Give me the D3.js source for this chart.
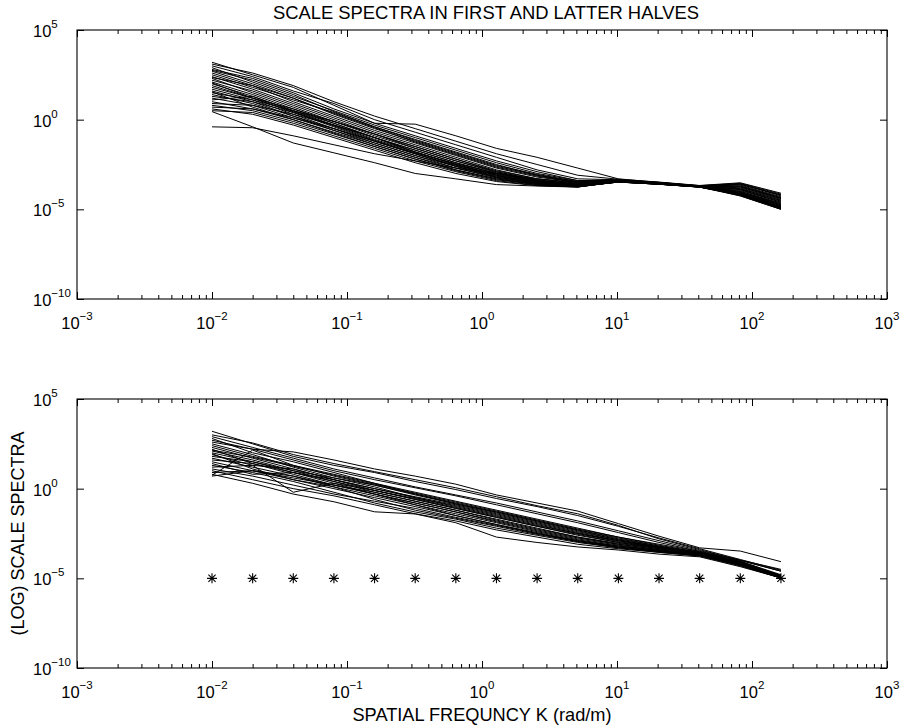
<!DOCTYPE html>
<html><head><meta charset="utf-8">
<script src="https://cdn.jsdelivr.net/npm/d3@7"></script>
<style>body{margin:0;background:#fff}svg{display:block}</style>
</head><body><svg id="c" width="902" height="727"></svg>
<script>
// ---- DATA ----
const freqs = [0.01,0.02,0.04,0.08,0.16,0.32,0.64,1.28,2.56,5.12,10.24,20.48,40.96,81.92,163.84];
const xTickExps = [-3,-2,-1,0,1,2,3];
const yTickExps = [5,0,-5,-10];
const markerLevel = 1e-5;
const titleText = "SCALE SPECTRA IN FIRST AND LATTER HALVES";
const xLabelText = "SPATIAL FREQUNCY K (rad/m)";
const yLabelText = "(LOG) SCALE SPECTRA";

// log10 of the scale spectra, first half (top panel)
const firstHalfLog10 = [
 [3.2, 2.5, 1.8, 0.8, -0.2, -0.25, -0.9, -1.6, -2.1, -2.7, -3.3, -3.5, -3.7, -3.6, -4.2],
 [-0.4, -0.45, -0.9, -1.4, -1.9, -2.3, -2.7, -3.0, -3.3, -3.5, -3.4, -3.55, -3.7, -3.9, -4.6],
 [0.45, -0.4, -1.3, -1.85, -2.4, -3.0, -3.3, -3.62, -3.7, -3.76, -3.45, -3.55, -3.72, -4.25, -5.0],
 [3.0, 2.4, 1.6, 0.9, 0.0, -0.7, -1.4, -2.1, -2.8, -3.3, -3.35, -3.5, -3.68, -3.55, -4.15],
 [2.9, 2.1, 1.3, 0.5, -0.3, -1.0, -1.7, -2.4, -3.0, -3.4, -3.38, -3.52, -3.7, -3.6, -4.2],
 [2.8, 2.3, 1.5, 0.6, -0.2, -0.9, -1.6, -2.3, -2.9, -3.4, -3.36, -3.5, -3.69, -3.58, -4.25],
 [2.7, 2.0, 1.2, 0.3, -0.5, -1.2, -1.9, -2.6, -3.1, -3.5, -3.4, -3.53, -3.71, -3.65, -4.3],
 [2.6, 1.9, 1.0, 0.2, -0.6, -1.3, -2.0, -2.7, -3.2, -3.5, -3.42, -3.55, -3.72, -3.7, -4.35],
 [2.5, 1.8, 1.1, 0.4, -0.4, -1.1, -1.8, -2.5, -3.1, -3.45, -3.39, -3.52, -3.7, -3.75, -4.4],
 [2.4, 1.7, 0.9, 0.1, -0.7, -1.4, -2.1, -2.8, -3.3, -3.55, -3.41, -3.54, -3.71, -3.8, -4.45],
 [2.3, 1.5, 0.7, -0.1, -0.9, -1.6, -2.3, -2.9, -3.35, -3.6, -3.43, -3.56, -3.73, -3.85, -4.5],
 [2.2, 1.6, 0.8, 0.0, -0.8, -1.5, -2.2, -2.85, -3.3, -3.55, -3.4, -3.55, -3.72, -3.9, -4.55],
 [2.1, 1.4, 0.6, -0.2, -1.0, -1.7, -2.4, -3.0, -3.4, -3.6, -3.44, -3.57, -3.74, -3.95, -4.6],
 [2.0, 1.3, 0.5, -0.3, -1.1, -1.8, -2.5, -3.05, -3.45, -3.65, -3.45, -3.58, -3.74, -4.0, -4.65],
 [1.9, 1.2, 0.4, -0.4, -1.2, -1.9, -2.55, -3.1, -3.5, -3.7, -3.46, -3.58, -3.75, -4.05, -4.7],
 [1.8, 1.2, 0.6, -0.1, -0.8, -1.6, -2.3, -2.95, -3.4, -3.6, -3.43, -3.56, -3.73, -4.1, -4.75],
 [1.7, 1.1, 0.3, -0.5, -1.3, -2.0, -2.6, -3.15, -3.5, -3.7, -3.47, -3.59, -3.75, -4.1, -4.8],
 [1.6, 1.0, 0.2, -0.6, -1.4, -2.1, -2.7, -3.2, -3.55, -3.72, -3.48, -3.6, -3.76, -4.15, -4.85],
 [1.5, 1.1, 0.5, -0.2, -1.0, -1.8, -2.5, -3.1, -3.5, -3.68, -3.46, -3.58, -3.74, -4.15, -4.9],
 [1.4, 0.9, 0.2, -0.5, -1.2, -1.9, -2.6, -3.2, -3.55, -3.7, -3.47, -3.6, -3.75, -4.2, -4.95],
 [1.3, 1.0, 0.4, -0.3, -1.0, -1.7, -2.4, -3.0, -3.45, -3.65, -3.45, -3.57, -3.74, -4.2, -4.9],
 [1.2, 0.8, 0.1, -0.6, -1.3, -2.0, -2.7, -3.25, -3.6, -3.72, -3.48, -3.6, -3.76, -4.25, -5.0],
 [1.1, 1.3, 0.5, -0.1, -0.8, -1.5, -2.2, -2.9, -3.4, -3.6, -3.44, -3.56, -3.73, -4.0, -4.7],
 [1.0, 0.6, 0.0, -0.7, -1.4, -2.1, -2.8, -3.3, -3.6, -3.74, -3.48, -3.6, -3.76, -4.2, -4.95],
 [0.9, 0.8, 0.3, -0.3, -1.0, -1.8, -2.5, -3.1, -3.5, -3.68, -3.46, -3.58, -3.75, -4.1, -4.8],
 [0.8, 0.5, -0.1, -0.8, -1.5, -2.2, -2.8, -3.3, -3.62, -3.74, -3.47, -3.59, -3.75, -4.15, -4.85],
 [0.7, 0.6, 0.1, -0.5, -1.2, -1.9, -2.6, -3.2, -3.55, -3.7, -3.45, -3.58, -3.74, -4.05, -4.75],
 [0.6, 0.3, -0.3, -1.0, -1.7, -2.4, -3.0, -3.45, -3.68, -3.75, -3.46, -3.58, -3.74, -4.2, -4.95],
 [2.05, 1.2, 0.45, -0.35, -1.15, -1.85, -2.45, -3.0, -3.4, -3.62, -3.42, -3.55, -3.72, -3.85, -4.5],
 [2.75, 2.2, 1.4, 0.45, -0.4, -1.15, -1.85, -2.55, -3.05, -3.45, -3.38, -3.52, -3.7, -3.7, -4.35],
 [1.55, 0.7, 0.0, -0.75, -1.5, -2.2, -2.85, -3.35, -3.62, -3.73, -3.47, -3.6, -3.76, -4.2, -4.9],
 [2.35, 1.9, 1.2, 0.35, -0.45, -1.25, -1.95, -2.65, -3.15, -3.5, -3.4, -3.54, -3.71, -3.75, -4.4],
 [3.1, 2.6, 1.9, 1.0, 0.2, -0.5, -1.2, -1.9, -2.5, -3.1, -3.32, -3.48, -3.67, -3.52, -4.1],
 [0.5, 0.4, -0.2, -0.9, -1.6, -2.3, -2.9, -3.4, -3.66, -3.75, -3.46, -3.59, -3.75, -4.15, -4.9]
];

// log10 of the scale spectra, latter half (bottom panel)
const latterHalfLog10 = [
 [2.6, 2.2, 2.05, 1.6, 1.1, 0.7, 0.25, -0.35, -0.8, -1.25, -1.95, -2.65, -3.3, -3.48, -4.07],
 [3.2, 2.5, 1.8, 1.3, 0.9, 0.4, -0.05, -0.55, -1.0, -1.5, -2.1, -2.75, -3.35, -3.95, -4.55],
 [3.0, 2.55, 1.9, 1.4, 0.95, 0.5, 0.05, -0.45, -0.95, -1.4, -2.05, -2.8, -3.4, -4.0, -4.6],
 [0.75, 2.15, 1.3, 0.8, 0.3, -0.2, -0.7, -1.2, -1.7, -2.2, -2.7, -3.1, -3.5, -4.05, -4.8],
 [2.8, 2.0, 1.5, 0.9, 0.3, -0.3, -0.8, -1.3, -1.8, -2.3, -2.8, -3.2, -3.6, -4.1, -4.9],
 [2.5, 1.9, 1.2, 0.6, 0.1, -0.5, -1.0, -1.5, -2.0, -2.5, -2.9, -3.25, -3.6, -4.15, -4.95],
 [2.3, 1.7, 1.1, 0.5, -0.1, -0.6, -1.1, -1.6, -2.1, -2.6, -3.0, -3.35, -3.65, -4.2, -4.95],
 [2.2, 1.4, 0.8, 0.2, -0.3, -0.8, -1.3, -1.8, -2.3, -2.75, -3.1, -3.4, -3.7, -4.2, -4.98],
 [2.1, 1.6, 1.0, 0.4, -0.2, -0.7, -1.2, -1.7, -2.2, -2.7, -3.05, -3.35, -3.65, -4.15, -4.9],
 [2.0, 1.5, 0.9, 0.5, 0.0, -0.5, -0.95, -1.45, -1.95, -2.45, -2.9, -3.3, -3.6, -4.1, -4.85],
 [1.9, 1.3, -0.2, 0.3, -0.1, -0.6, -1.1, -1.6, -2.1, -2.55, -3.0, -3.3, -3.6, -4.15, -4.9],
 [1.8, 1.5, 1.0, 0.6, 0.2, -0.3, -0.85, -1.35, -1.85, -2.35, -2.85, -3.25, -3.55, -4.1, -4.85],
 [1.7, 1.2, 0.7, 0.1, -0.4, -0.9, -1.4, -1.9, -2.4, -2.85, -3.2, -3.45, -3.7, -4.2, -4.95],
 [1.6, 1.4, 0.9, 0.3, -0.3, -0.8, -1.3, -1.85, -2.35, -2.8, -3.15, -3.45, -3.7, -4.25, -4.98],
 [1.5, 1.0, 0.6, 0.2, -0.2, -0.7, -1.2, -1.75, -2.25, -2.7, -3.1, -3.4, -3.65, -4.2, -4.95],
 [1.3, 0.9, 0.4, -0.2, -0.8, -1.3, -1.7, -2.2, -2.6, -3.0, -3.3, -3.5, -3.75, -4.25, -4.98],
 [1.2, 1.3, 1.1, 0.5, 0.0, -0.45, -0.9, -1.4, -1.9, -2.4, -2.85, -3.25, -3.55, -4.1, -4.9],
 [1.0, 0.5, 0.0, -0.4, -0.9, -1.4, -1.8, -2.3, -2.7, -3.1, -3.35, -3.55, -3.75, -4.3, -4.98],
 [0.8, 0.3, -0.3, -0.73, -1.29, -1.41, -1.9, -2.7, -3.0, -3.25, -3.42, -3.65, -3.8, -4.35, -4.98],
 [0.9, 1.0, 0.7, 0.2, -0.3, -0.9, -1.5, -2.0, -2.45, -2.9, -3.25, -3.5, -3.7, -4.25, -4.95],
 [2.4, 1.8, 1.3, 0.7, 0.2, -0.35, -0.85, -1.3, -1.8, -2.3, -2.75, -3.2, -3.55, -4.05, -4.85],
 [2.7, 2.2, 1.6, 1.0, 0.5, 0.05, -0.4, -0.9, -1.4, -1.9, -2.45, -3.0, -3.5, -4.0, -4.6],
 [1.4, 0.8, 0.9, 0.4, -0.1, -0.55, -1.05, -1.55, -2.05, -2.5, -2.95, -3.3, -3.6, -4.15, -4.9],
 [2.9, 2.3, 1.7, 1.1, 0.6, 0.1, -0.35, -0.8, -1.3, -1.8, -2.35, -2.9, -3.45, -3.98, -4.5],
 [1.1, 0.7, 0.2, -0.3, -0.7, -1.1, -1.6, -2.05, -2.5, -2.95, -3.3, -3.55, -3.75, -4.3, -4.98],
 [2.15, 1.75, 1.25, 0.75, 0.25, -0.25, -0.75, -1.25, -1.75, -2.25, -2.7, -3.15, -3.55, -4.1, -4.85],
 [1.95, 1.1, 0.5, 0.0, -0.5, -1.0, -1.5, -2.0, -2.5, -2.9, -3.2, -3.45, -3.7, -4.2, -4.95],
 [0.7, 1.0, 0.5, 0.1, -0.6, -1.2, -1.65, -2.1, -2.55, -2.95, -3.25, -3.5, -3.7, -4.25, -4.98]
];

// ---- DRAW ----
const svg = d3.select("#c");
const FONT = "'Liberation Sans', Arial, Helvetica, sans-serif";
const L = 77, R = 887;
const panels = [
  {top: 30, bottom: 299, data: firstHalfLog10, markers: false},
  {top: 399, bottom: 668, data: latterHalfLog10, markers: true}
];
const x = d3.scaleLog().domain([1e-3, 1e3]).range([L, R]);
const majorX = xTickExps.map(e => Math.pow(10, e));
const minorX = [];
for (let e = -3; e < 3; e++) for (let m = 2; m <= 9; m++) minorX.push(m * Math.pow(10, e));
const majorY = yTickExps.map(e => Math.pow(10, e));
const minus = s => String(s).replace("-", "\u2212");

function supLabel(sel, base, exp, anchor) {
  const t = sel.append("text").attr("text-anchor", anchor).attr("font-family", FONT).attr("fill", "#000");
  t.append("tspan").attr("font-size", 16.5).text(base);
  t.append("tspan").attr("font-size", 11.5).attr("dy", -9).text(minus(exp));
  return t;
}

panels.forEach(p => {
  const y = d3.scaleLog().domain([1e-10, 1e5]).range([p.bottom, p.top]);
  const g = svg.append("g");

  // lines
  const line = d3.line().x((d, i) => x(freqs[i])).y(d => y(Math.pow(10, d)));
  g.append("g").selectAll("path").data(p.data).join("path")
    .attr("d", line).attr("fill", "none").attr("stroke", "#000")
    .attr("stroke-width", 1).attr("stroke-linejoin", "round");

  // markers
  if (p.markers) {
    const s = 5, sd = 3.6;
    g.append("g").selectAll("path").data(freqs).join("path")
      .attr("d", f => {
        const cx = x(f), cy = y(markerLevel);
        return `M${cx - s},${cy}L${cx + s},${cy}M${cx},${cy - s}L${cx},${cy + s}` +
               `M${cx - sd},${cy - sd}L${cx + sd},${cy + sd}M${cx - sd},${cy + sd}L${cx + sd},${cy - sd}`;
      })
      .attr("stroke", "#000").attr("stroke-width", 1.1).attr("fill", "none");
  }

  // axes (inward ticks)
  const mkAxis = (axisFn, scale, vals, size) => axisFn(scale).tickValues(vals).tickSizeInner(size).tickSizeOuter(0).tickFormat(() => "");
  const axes = [
    [d3.axisBottom, x, majorX, -7, `translate(0,${p.bottom})`],
    [d3.axisBottom, x, minorX, -4, `translate(0,${p.bottom})`],
    [d3.axisTop, x, majorX, -7, `translate(0,${p.top})`],
    [d3.axisTop, x, minorX, -4, `translate(0,${p.top})`],
    [d3.axisLeft, y, majorY, -7, `translate(${L},0)`],
    [d3.axisRight, y, majorY, -7, `translate(${R},0)`]
  ];
  axes.forEach(([fn, sc, vals, sz, tr]) => {
    const a = g.append("g").attr("transform", tr).call(mkAxis(fn, sc, vals, sz));
    a.select(".domain").remove();
    a.selectAll("line").attr("stroke", "#000").attr("stroke-width", 1);
  });

  // frame
  g.append("rect").attr("x", L).attr("y", p.top).attr("width", R - L).attr("height", p.bottom - p.top)
    .attr("fill", "none").attr("stroke", "#000").attr("stroke-width", 1.1);

  // x tick labels
  majorX.forEach((v, i) => {
    supLabel(g, "10", xTickExps[i], "middle").attr("x", x(v)).attr("y", p.bottom + 30);
  });
  // y tick labels
  majorY.forEach((v, i) => {
    supLabel(g, "10", yTickExps[i], "start").attr("x", 33).attr("y", y(v) + 7);
  });
});

// titles
svg.append("text").attr("x", (L + R) / 2 + 4).attr("y", 19).attr("text-anchor", "middle")
  .attr("font-family", FONT).attr("font-size", 18.4).text(titleText);
svg.append("text").attr("x", (L + R) / 2).attr("y", 721).attr("text-anchor", "middle")
  .attr("font-family", FONT).attr("font-size", 18.2).text(xLabelText);
svg.append("text").attr("transform", `translate(24,${(399 + 668) / 2}) rotate(-90)`).attr("text-anchor", "middle")
  .attr("font-family", FONT).attr("font-size", 18).text(yLabelText);
</script>
</body></html>
